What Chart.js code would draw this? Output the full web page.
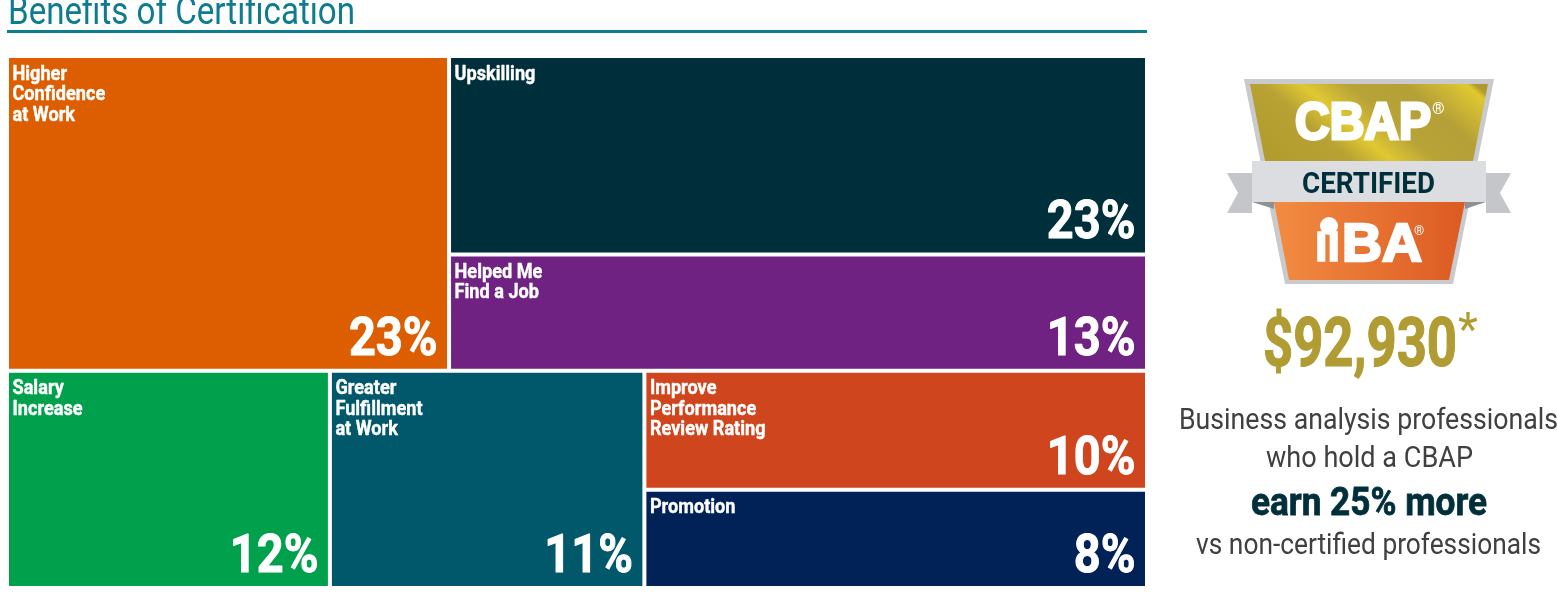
<!DOCTYPE html>
<html>
<head>
<meta charset="utf-8">
<title>Benefits of Certification</title>
<script src="https://cdn.jsdelivr.net/npm/chart.js@4"></script>
<style>
  html, body { margin: 0; padding: 0; background: #fff; overflow: hidden; }
  #wrap { position: absolute; left: 0; top: 0; width: 1557px; height: 609px; }
  #box { position: absolute; left: 7px; top: 56px; width: 1140px; height: 532px; }
  #over { position: absolute; left: 0; top: 0; }
  #over text { font-family: Roboto, sans-serif; }
</style>
</head>
<body>
<div id="wrap">
  <div id="box"><canvas id="grafico"></canvas></div>
  <svg id="over" width="1557" height="609" viewBox="0 0 1557 609">
    <defs>
      <linearGradient id="oro" gradientUnits="userSpaceOnUse" x1="1280" y1="160" x2="1400" y2="20">
        <stop offset="0" stop-color="#b39c2e"/>
        <stop offset="0.25" stop-color="#b8a233"/>
        <stop offset="0.39" stop-color="#e0c832"/>
        <stop offset="0.55" stop-color="#b8a338"/>
        <stop offset="0.75" stop-color="#b5a038"/>
        <stop offset="0.97" stop-color="#e0c830"/>
        <stop offset="1" stop-color="#b09a30"/>
      </linearGradient>
      <linearGradient id="naranja" x1="0" y1="0" x2="1" y2="0">
        <stop offset="0" stop-color="#f28c42"/>
        <stop offset="1" stop-color="#dc5a22"/>
      </linearGradient>
    </defs>

    <text x="8" y="24" font-size="38" fill="#0e7c8f" textLength="347" lengthAdjust="spacingAndGlyphs">Benefits of Certification</text>
    <rect x="7" y="30" width="1140" height="3" fill="#0e7c8f"/>

    <polygon points="1244,79 1494,79 1453,284 1285,284" fill="#c9cacd"/>
    <polygon points="1250,84 1488,84 1473,161 1265,161" fill="url(#oro)"/>
    <polygon points="1227,173 1252,173 1252,213 1227,213 1238,193" fill="#c5c6c9"/>
    <polygon points="1511,173 1486,173 1486,213 1511,213 1500,193" fill="#c5c6c9"/>
    <polygon points="1252,202 1274,202 1274,209" fill="#8f9094"/>
    <polygon points="1486,202 1465,202 1465,209" fill="#8f9094"/>
    <polygon points="1274,202 1465,202 1449,280 1289,280" fill="url(#naranja)"/>
    <rect x="1252" y="161" width="234" height="41" fill="#dcdde0"/>

    <text x="1295" y="139" font-size="51" font-weight="900" fill="#fff" stroke="#fff" stroke-width="3" textLength="136" lengthAdjust="spacingAndGlyphs" style="font-family:'Liberation Sans',sans-serif">CBAP</text>
    <text x="1432" y="114" font-size="16" fill="#fff">®</text>
    <text x="1302" y="193" font-size="29" font-weight="700" fill="#002f3c" textLength="133" lengthAdjust="spacingAndGlyphs">CERTIFIED</text>
    <circle cx="1329" cy="226" r="9" fill="#fff"/>
    <text x="1315" y="261" font-size="42" font-weight="900" fill="#fff" stroke="#fff" stroke-width="1.5" textLength="25" lengthAdjust="spacingAndGlyphs" style="font-family:'Liberation Sans',sans-serif">II</text>
    <text x="1342" y="261" font-size="53" font-weight="900" fill="#fff" stroke="#fff" stroke-width="2.5" textLength="80" lengthAdjust="spacingAndGlyphs" style="font-family:'Liberation Sans',sans-serif">BA</text>
    <text x="1414" y="235" font-size="13" fill="#fff">®</text>

    <text x="1263" y="366" font-size="68" font-weight="700" fill="#b09c33" stroke="#b09c33" stroke-width="1.2" textLength="194" lengthAdjust="spacingAndGlyphs">$92,930</text>
    <text x="1458" y="345" font-size="46" font-weight="400" fill="#b09c33">*</text>
    <text x="1179" y="429" font-size="30" fill="#404040" textLength="379" lengthAdjust="spacingAndGlyphs">Business analysis professionals</text>
    <text x="1266" y="467" font-size="30" fill="#404040" textLength="207" lengthAdjust="spacingAndGlyphs">who hold a CBAP</text>
    <text x="1251" y="515" font-size="39" font-weight="700" fill="#002f3c" stroke="#002f3c" stroke-width="0.8" textLength="236" lengthAdjust="spacingAndGlyphs">earn 25% more</text>
    <text x="1196" y="554" font-size="30" fill="#404040" textLength="345" lengthAdjust="spacingAndGlyphs">vs non-certified professionals</text>
  </svg>
</div>
<script>
const categorias = ["Higher Confidence at Work", "Upskilling", "Helped Me Find a Job", "Salary Increase", "Greater Fulfillment at Work", "Improve Performance Review Rating", "Promotion"];
const lineas = [["Higher", "Confidence", "at Work"], ["Upskilling"], ["Helped Me", "Find a Job"], ["Salary", "Increase"], ["Greater", "Fulfillment", "at Work"], ["Improve", "Performance", "Review Rating"], ["Promotion"]];
// estimados del area de cada caja, el rotulo los redondea
const valores = [22.8, 22.7, 13.3, 11.5, 11.2, 9.8, 8.1];
const colores = ["#dd5e00", "#002f3c", "#6f2282", "#00a04d", "#00586a", "#cf451e", "#002256"];
// arbol del treemap: cada nivel alterna la direccion de corte
const arbol = [[0, [1, 2]], [3, 4, [5, 6]]];

function sumar(nodo) {
  if (Array.isArray(nodo)) return nodo.reduce((acc, n) => acc + sumar(n), 0);
  return valores[nodo];
}

// parte el rectangulo segun los valores, horizontal = corta a lo ancho
function repartir(nodo, x0, y0, x1, y1, horizontal, salida) {
  if (!Array.isArray(nodo)) {
    salida[nodo] = { x0, y0, x1, y1 };
    return;
  }
  const total = sumar(nodo);
  let acum = 0;
  nodo.forEach(n => {
    const a = acum / total;
    acum += sumar(n);
    const b = acum / total;
    if (horizontal) {
      repartir(n, x0 + (x1 - x0) * a, y0, x0 + (x1 - x0) * b, y1, false, salida);
    } else {
      repartir(n, x0, y0 + (y1 - y0) * a, x1, y0 + (y1 - y0) * b, true, salida);
    }
  });
}

class TreemapController extends Chart.BarController {
  updateElements(rects, start, count, mode) {
    const xs = this.chart.scales.x;
    const ys = this.chart.scales.y;
    const cajas = [];
    repartir(arbol, 0, 0, 100, 100, false, cajas);
    for (let i = start; i < start + count; i++) {
      const c = cajas[i];
      const izq = xs.getPixelForValue(c.x0);
      const der = xs.getPixelForValue(c.x1);
      this.updateElement(rects[i], i, {
        horizontal: false,
        x: (izq + der) / 2,
        width: der - izq,
        y: ys.getPixelForValue(c.y0),
        base: ys.getPixelForValue(c.y1),
        height: ys.getPixelForValue(c.y1) - ys.getPixelForValue(c.y0),
        borderSkipped: { top: false, left: false, bottom: false, right: false },
        inflateAmount: 0,
        options: this.resolveDataElementOptions(i, mode)
      }, mode);
    }
  }
}
TreemapController.id = "treemap";
TreemapController.defaults = Chart.BarController.defaults;
Chart.register(TreemapController);

// Roboto Condensed no esta, se comprime Roboto y se engorda con trazo
function textoAngosto(ctx, txt, x, y, escala, grosor) {
  ctx.save();
  ctx.translate(x, y);
  ctx.scale(escala, 1);
  ctx.lineWidth = grosor;
  ctx.strokeStyle = "#fff";
  ctx.lineJoin = "round";
  ctx.strokeText(txt, 0, 0);
  ctx.fillText(txt, 0, 0);
  ctx.restore();
}

const rotulos = {
  id: "rotulos",
  afterDatasetsDraw(chart) {
    const ctx = chart.ctx;
    chart.getDatasetMeta(0).data.forEach((rect, i) => {
      const izq = rect.x - rect.width / 2;
      const der = rect.x + rect.width / 2;
      ctx.save();
      ctx.fillStyle = "#fff";
      ctx.textBaseline = "alphabetic";
      ctx.font = "bold 19.5px Roboto";
      ctx.textAlign = "left";
      lineas[i].forEach((txt, n) => {
        textoAngosto(ctx, txt, izq + 5.5, rect.y + 23.5 + n * 20.5, 0.93, 0.4);
      });
      ctx.font = "bold 54px Roboto";
      ctx.textAlign = "right";
      textoAngosto(ctx, Math.round(valores[i]) + "%", der - 11.5, rect.base - 16, 0.87, 1);
      ctx.restore();
    });
  }
};

new Chart(document.getElementById("grafico"), {
  type: "treemap",
  data: {
    labels: categorias,
    datasets: [{
      data: valores,
      backgroundColor: colores,
      borderColor: "#fff",
      borderWidth: 2
    }]
  },
  options: {
    responsive: true,
    maintainAspectRatio: false,
    animation: false,
    layout: { padding: 0 },
    plugins: { legend: { display: false }, tooltip: { enabled: false }, title: { display: false } },
    scales: {
      x: { type: "linear", display: false, min: 0, max: 100, offset: false },
      y: { type: "linear", display: false, min: 0, max: 100, reverse: true }
    }
  },
  plugins: [rotulos]
});
</script>
</body>
</html>
